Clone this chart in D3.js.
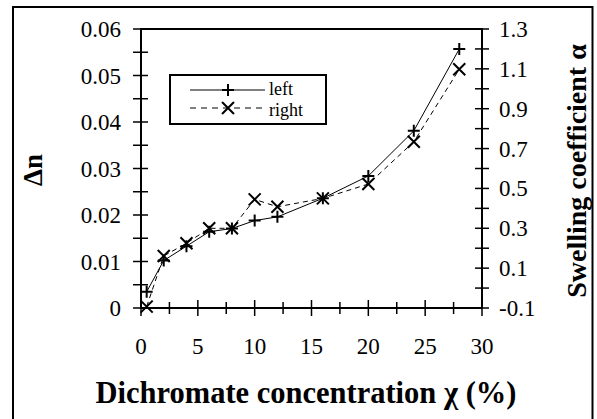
<!DOCTYPE html>
<html>
<head>
<meta charset="utf-8">
<script src="https://cdn.jsdelivr.net/npm/d3@7"></script>
<style>
  body { margin: 0; background: #fff; }
  svg { display: block; font-family: "Liberation Serif", "Times New Roman", serif; }
</style>
</head>
<body>
<div id="chart"></div>
<script>
// concentration (%) shared by both series
const concentration = [0.5, 2, 4, 6, 8, 10, 12, 16, 20, 24, 28];
// left axis: birefringence
const deltaN = [0.0035, 0.0102, 0.0133, 0.0164, 0.0171, 0.0188, 0.0196, 0.0236, 0.0284, 0.0381, 0.0557];
// right axis: swelling coefficient
const alpha = [-0.093, 0.161, 0.225, 0.30, 0.30, 0.445, 0.408, 0.45, 0.522, 0.734, 1.098];

const xTicks = [0, 5, 10, 15, 20, 25, 30];
const yLeftTicks = [0, 0.01, 0.02, 0.03, 0.04, 0.05, 0.06];
const yRightTicks = [-0.1, 0.1, 0.3, 0.5, 0.7, 0.9, 1.1, 1.3];

const W = 597, H = 419;
const plot = { left: 141, right: 482, top: 29, bottom: 308 };

const svg = d3.select('#chart').append('svg').attr('width', W).attr('height', H);

// outer frame
svg.append('rect')
    .attr('x', 13).attr('y', 7).attr('width', 579.5).attr('height', 420)
    .attr('fill', 'none').attr('stroke', '#000').attr('stroke-width', 2);

const x = d3.scaleLinear().domain([0, 30]).range([plot.left, plot.right]);
const yL = d3.scaleLinear().domain([0, 0.06]).range([plot.bottom, plot.top]);
const yR = d3.scaleLinear().domain([-0.1, 1.3]).range([plot.bottom, plot.top]);

// plot box
svg.append('rect')
    .attr('x', plot.left).attr('y', plot.top)
    .attr('width', plot.right - plot.left).attr('height', plot.bottom - plot.top)
    .attr('fill', 'none').attr('stroke', '#000').attr('stroke-width', 2);

// ticks (minor every half step, crossing the axis line)
const g = svg.append('g').attr('stroke', '#000').attr('stroke-width', 1.5);
d3.range(0, 30.01, 2.5).forEach(v => {
    const major = v % 5 === 0;
    g.append('line').attr('x1', x(v)).attr('x2', x(v))
        .attr('y1', plot.bottom - (major ? 8 : 6)).attr('y2', plot.bottom + (major ? 8 : 6));
});
d3.range(0, 0.0601, 0.005).forEach(v => {
    g.append('line').attr('x1', plot.left - 8).attr('x2', plot.left + 7)
        .attr('y1', yL(v)).attr('y2', yL(v));
});
d3.range(-0.1, 1.301, 0.1).forEach(v => {
    g.append('line').attr('x1', plot.right - 7).attr('x2', plot.right + 7)
        .attr('y1', yR(v)).attr('y2', yR(v));
});

// tick labels
const fmtL = d => d === 0 ? '0' : d.toFixed(2);
svg.selectAll('.xl').data(xTicks).enter().append('text')
    .attr('x', d => x(d)).attr('y', 354)
    .attr('text-anchor', 'middle').attr('font-size', 23).text(d => d);
svg.selectAll('.yl').data(yLeftTicks).enter().append('text')
    .attr('x', 121).attr('y', d => yL(d) + 8)
    .attr('text-anchor', 'end').attr('font-size', 23).text(fmtL);
svg.selectAll('.yr').data(yRightTicks).enter().append('text')
    .attr('x', 499).attr('y', d => yR(d) + 8)
    .attr('text-anchor', 'start').attr('font-size', 23).text(d => d.toFixed(1));

// axis titles
svg.append('text').attr('x', 306).attr('y', 403)
    .attr('text-anchor', 'middle').attr('font-size', 30.5).attr('font-weight', 'bold')
    .text('Dichromate concentration χ (%)');
svg.append('text').attr('transform', 'translate(42,170) rotate(-90)')
    .attr('text-anchor', 'middle').attr('font-size', 27).attr('font-weight', 'bold')
    .text('Δn');
svg.append('text').attr('transform', 'translate(586,171) rotate(-90)')
    .attr('text-anchor', 'middle').attr('font-size', 28).attr('font-weight', 'bold')
    .text('Swelling coefficient α');

// series
const leftPts = concentration.map((c, i) => [x(c), yL(deltaN[i])]);
const rightPts = concentration.map((c, i) => [x(c), yR(alpha[i])]);

svg.append('path').attr('d', d3.line()(leftPts))
    .attr('fill', 'none').attr('stroke', '#000').attr('stroke-width', 1);
svg.append('path').attr('d', d3.line()(rightPts))
    .attr('fill', 'none').attr('stroke', '#000').attr('stroke-width', 1)
    .attr('stroke-dasharray', '5,4');

function plusMark(sel, cx, cy) {
    sel.append('path').attr('d', `M${cx - 6},${cy}H${cx + 6}M${cx},${cy - 6}V${cy + 6}`)
        .attr('stroke', '#000').attr('stroke-width', 2).attr('fill', 'none');
}
function crossMark(sel, cx, cy) {
    sel.append('path').attr('d', `M${cx - 6},${cy - 6}L${cx + 6},${cy + 6}M${cx - 6},${cy + 6}L${cx + 6},${cy - 6}`)
        .attr('stroke', '#000').attr('stroke-width', 2).attr('fill', 'none');
}
leftPts.forEach(p => plusMark(svg, p[0], p[1]));
rightPts.forEach(p => crossMark(svg, p[0], p[1]));

// legend
const lg = svg.append('g');
lg.append('rect').attr('x', 170).attr('y', 75).attr('width', 156).attr('height', 49)
    .attr('fill', '#fff').attr('stroke', '#000').attr('stroke-width', 2);
lg.append('line').attr('x1', 190).attr('x2', 265).attr('y1', 90).attr('y2', 90)
    .attr('stroke', '#000').attr('stroke-width', 1);
plusMark(lg, 228, 90);
lg.append('line').attr('x1', 190).attr('x2', 265).attr('y1', 108).attr('y2', 108)
    .attr('stroke', '#000').attr('stroke-width', 1).attr('stroke-dasharray', '6,5');
crossMark(lg, 228, 108);
lg.append('text').attr('x', 269).attr('y', 95).attr('font-size', 18).text('left');
lg.append('text').attr('x', 269).attr('y', 116).attr('font-size', 18).text('right');
</script>
</body>
</html>
